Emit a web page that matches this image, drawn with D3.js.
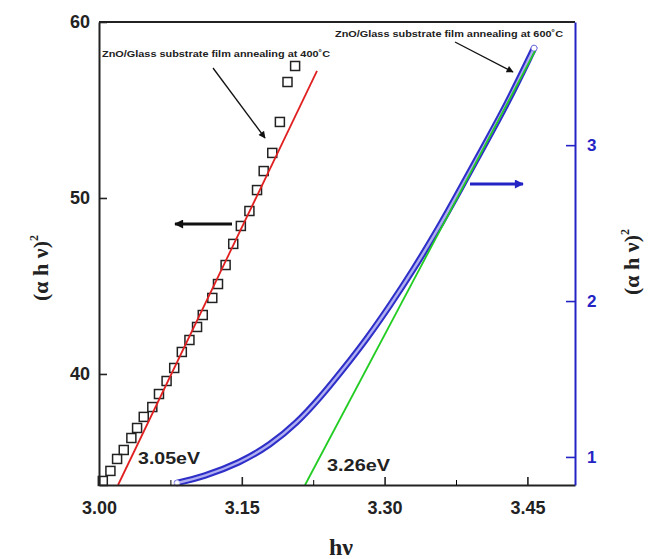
<!DOCTYPE html>
<html>
<head>
<meta charset="utf-8">
<script src="https://cdn.jsdelivr.net/npm/d3@7"></script>
<style>
  body { margin: 0; background: #fff; }
  svg { display: block; }
</style>
</head>
<body>
<div class="chart"></div>
<script>
// squares: film annealed at 400 C (left axis)
const sqX = [3.004, 3.012, 3.019, 3.026, 3.034, 3.040, 3.047, 3.056, 3.063, 3.071, 3.079, 3.087, 3.095, 3.103, 3.109, 3.119, 3.125, 3.133, 3.141, 3.149, 3.158, 3.166, 3.173, 3.182, 3.190, 3.198, 3.206];
const sqY = [33.92, 34.49, 35.17, 35.68, 36.36, 36.93, 37.56, 38.12, 38.86, 39.60, 40.34, 41.25, 41.93, 42.67, 43.35, 44.32, 45.11, 46.19, 47.39, 48.41, 49.26, 50.45, 51.53, 52.56, 54.32, 56.59, 57.50];
const fitX400 = [3.020, 3.229];
const fitY400 = [33.69, 57.22];

// circles: film annealed at 600 C (right axis)
const blX = [3.082, 3.109, 3.148, 3.180, 3.208, 3.232, 3.256, 3.282, 3.306, 3.330, 3.355, 3.379, 3.403, 3.428, 3.457];
const blY = [0.833, 0.872, 0.962, 1.077, 1.218, 1.378, 1.558, 1.763, 1.974, 2.199, 2.449, 2.712, 2.981, 3.256, 3.622];
const fitX600 = [3.2164, 3.458];
const fitY600 = [0.82, 3.603];

const xTicks = [3.00, 3.15, 3.30, 3.45];
const xMinor = [3.075, 3.225, 3.375];
const leftTicks = [40, 50, 60];
const rightTicks = [1, 2, 3];

const w = 662, h = 559;
const sans = "'Liberation Sans', Arial, sans-serif";
const serif = "'Liberation Serif', 'Times New Roman', serif";
const blue = "#2424c4";

const svg = d3.select(".chart").append("svg")
    .attr("width", w)
    .attr("height", h);

const x = d3.scaleLinear().domain([3.0, 3.5]).range([99, 575]);
const yL = d3.scaleLinear().domain([33.69, 60]).range([485, 22]);
const yR = d3.scaleLinear().domain([0.82, 3.79]).range([485, 22]);

// arrow heads
const defs = svg.append("defs");
function head(id, color, len, wid) {
    defs.append("marker")
        .attr("id", id)
        .attr("viewBox", "0 0 10 10")
        .attr("refX", 9).attr("refY", 5)
        .attr("markerUnits", "userSpaceOnUse")
        .attr("markerWidth", len).attr("markerHeight", wid)
        .attr("orient", "auto")
        .append("path").attr("d", "M0,0 L10,5 L0,10 Z").attr("fill", color);
}
head("hk", "#111", 9, 7);
head("hkBig", "#111", 12, 9);
head("hbBig", blue, 12, 9);

// top frame
svg.append("line")
    .attr("x1", 99).attr("x2", 575).attr("y1", 22).attr("y2", 22)
    .attr("stroke", "#222").attr("stroke-width", 2);

// blue curve drawn as a dense band of open circles
const lineR = d3.line().x(d => x(d[0])).y(d => yR(d[1])).curve(d3.curveBasis);
const blPts = blX.map((v, i) => [v, blY[i]]);
svg.append("path").attr("d", lineR(blPts))
    .attr("fill", "none").attr("stroke", "#2e2ec8").attr("stroke-width", 6.5)
    .attr("stroke-linecap", "round");
svg.append("path").attr("d", lineR(blPts))
    .attr("fill", "none").attr("stroke", "#aeaef0").attr("stroke-width", 2.4);
svg.append("circle")
    .attr("cx", x(blX[0])).attr("cy", yR(blY[0])).attr("r", 2.5)
    .attr("fill", "#fff").attr("stroke", "#c8c8f4").attr("stroke-width", 1);
svg.append("circle")
    .attr("cx", x(blX[blX.length - 1])).attr("cy", yR(blY[blY.length - 1])).attr("r", 3)
    .attr("fill", "#fff").attr("stroke", "#7a7ae0").attr("stroke-width", 1);

// green fit
svg.append("line")
    .attr("x1", x(fitX600[0])).attr("y1", yR(fitY600[0]))
    .attr("x2", x(fitX600[1])).attr("y2", yR(fitY600[1]))
    .attr("stroke", "#22cc22").attr("stroke-width", 1.8);

// squares
const sqPts = sqX.map((v, i) => [v, sqY[i]]);
svg.selectAll("rect.sq").data(sqPts).enter().append("rect")
    .attr("class", "sq")
    .attr("x", d => x(d[0]) - 4.5).attr("y", d => yL(d[1]) - 4.5)
    .attr("width", 9).attr("height", 9)
    .attr("fill", "none").attr("stroke", "#222").attr("stroke-width", 1.5);

// red fit
svg.append("line")
    .attr("x1", x(fitX400[0])).attr("y1", yL(fitY400[0]))
    .attr("x2", x(fitX400[1])).attr("y2", yL(fitY400[1]))
    .attr("stroke", "#e02020").attr("stroke-width", 1.8);

// axes
const gx = svg.append("g").attr("transform", "translate(0,485)")
    .call(d3.axisBottom(x).tickValues(xTicks).tickSize(-8).tickSizeOuter(0)
        .tickPadding(16).tickFormat(d3.format(".2f")));
svg.append("g").attr("transform", "translate(0,485)")
    .call(d3.axisBottom(x).tickValues(xMinor).tickSize(-5).tickSizeOuter(0).tickFormat(""))
    .select(".domain").remove();

const gl = svg.append("g").attr("transform", "translate(99,0)")
    .call(d3.axisLeft(yL).tickValues(leftTicks).tickSize(-8).tickSizeOuter(0).tickPadding(9));

const gr = svg.append("g").attr("transform", "translate(575,0)")
    .call(d3.axisRight(yR).tickValues(rightTicks).tickSize(-9).tickSizeOuter(0)
        .tickPadding(12).tickFormat(d3.format("d")));

[gx, gl].forEach(g => {
    g.select(".domain").attr("stroke", "#222").attr("stroke-width", 2);
    g.selectAll(".tick line").attr("stroke", "#222").attr("stroke-width", 1.6);
    g.selectAll("text").attr("fill", "#222")
        .style("font-family", sans).style("font-size", "18px").style("font-weight", "bold");
});
gr.select(".domain").attr("stroke", blue).attr("stroke-width", 2);
gr.selectAll(".tick line").attr("stroke", blue).attr("stroke-width", 1.6);
gr.selectAll("text").attr("fill", blue)
    .style("font-family", sans).style("font-size", "17px").style("font-weight", "bold");

// axis titles
function ahv(g) {
    g.append("tspan").text("(\u03b1 h \u03bd)");
    g.append("tspan").attr("dy", -10).style("font-size", "12px").text("2");
}
ahv(svg.append("text")
    .attr("transform", "translate(48,268) rotate(-90)")
    .attr("text-anchor", "middle")
    .style("font-family", serif).style("font-size", "22px").style("font-weight", "bold")
    .attr("fill", "#222"));
ahv(svg.append("text")
    .attr("transform", "translate(639,262) rotate(-90)")
    .attr("text-anchor", "middle")
    .style("font-family", serif).style("font-size", "22px").style("font-weight", "bold")
    .attr("fill", "#222"));
svg.append("text")
    .attr("x", 341).attr("y", 555)
    .attr("text-anchor", "middle")
    .style("font-family", serif).style("font-size", "24px").style("font-weight", "bold")
    .attr("fill", "#222")
    .text("h\u03bd");

// annotations
svg.append("text").attr("x", 102).attr("y", 57)
    .attr("textLength", 228).attr("lengthAdjust", "spacingAndGlyphs")
    .style("font-family", sans).style("font-size", "9.5px").style("font-weight", "bold")
    .attr("fill", "#222")
    .text("ZnO/Glass substrate film annealing at 400\u02daC");
svg.append("text").attr("x", 335).attr("y", 37)
    .attr("textLength", 228).attr("lengthAdjust", "spacingAndGlyphs")
    .style("font-family", sans).style("font-size", "9.5px").style("font-weight", "bold")
    .attr("fill", "#222")
    .text("ZnO/Glass substrate film annealing at 600\u02daC");

svg.append("line").attr("x1", 213).attr("y1", 68).attr("x2", 265).attr("y2", 138)
    .attr("stroke", "#111").attr("stroke-width", 1.3).attr("marker-end", "url(#hk)");
svg.append("line").attr("x1", 455).attr("y1", 42).attr("x2", 513).attr("y2", 72)
    .attr("stroke", "#111").attr("stroke-width", 1.3).attr("marker-end", "url(#hk)");

svg.append("line").attr("x1", 232).attr("y1", 224).attr("x2", 175).attr("y2", 224)
    .attr("stroke", "#111").attr("stroke-width", 3.2).attr("marker-end", "url(#hkBig)");
svg.append("line").attr("x1", 470).attr("y1", 184).attr("x2", 523).attr("y2", 184)
    .attr("stroke", blue).attr("stroke-width", 3.2).attr("marker-end", "url(#hbBig)");

svg.append("text").attr("x", 138).attr("y", 464)
    .attr("textLength", 62).attr("lengthAdjust", "spacingAndGlyphs")
    .style("font-family", sans).style("font-size", "17px").style("font-weight", "bold")
    .attr("fill", "#222").text("3.05eV");
svg.append("text").attr("x", 327).attr("y", 471)
    .attr("textLength", 63).attr("lengthAdjust", "spacingAndGlyphs")
    .style("font-family", sans).style("font-size", "17px").style("font-weight", "bold")
    .attr("fill", "#222").text("3.26eV");
</script>
</body>
</html>
